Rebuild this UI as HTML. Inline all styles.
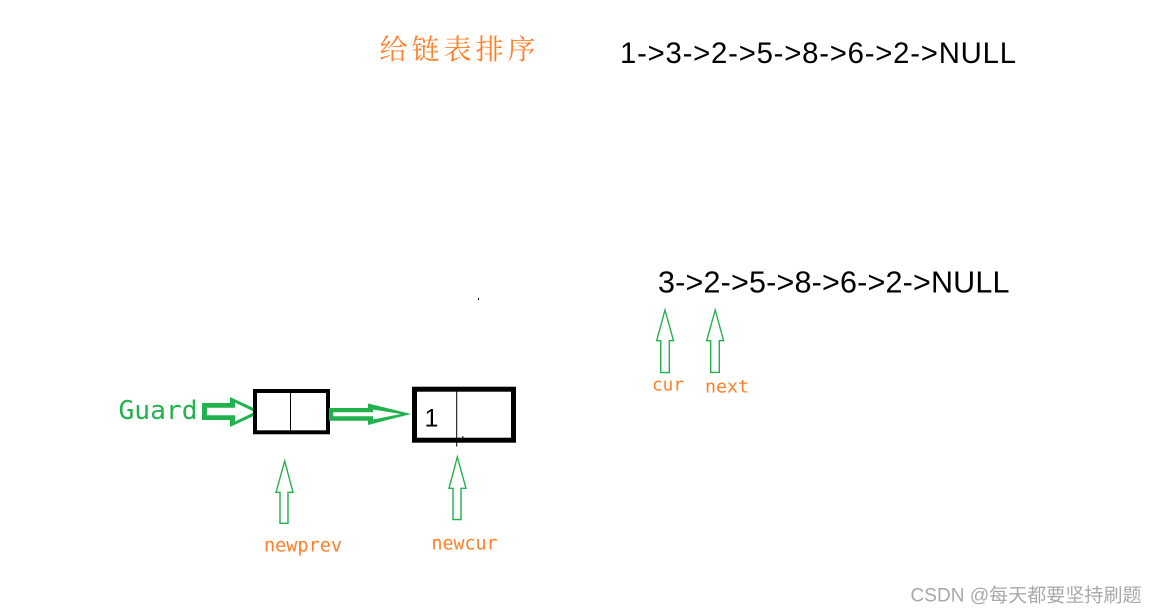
<!DOCTYPE html>
<html>
<head>
<meta charset="utf-8">
<style>
  html, body { margin:0; padding:0; background:#ffffff; }
  body { width:1156px; height:613px; overflow:hidden; }
  svg { display:block; }
</style>
</head>
<body>
<svg width="1156" height="613" viewBox="0 0 1156 613" xmlns="http://www.w3.org/2000/svg">
  <rect x="0" y="0" width="1156" height="613" fill="#ffffff"/>

  <!-- Title -->
  <text x="379.5" y="59" font-family="'Noto Serif CJK SC', 'WenQuanYi Zen Hei', serif" font-size="28" fill="#ff7f27" textLength="156" lengthAdjust="spacing">给链表排序</text>

  <!-- Top sequence -->
  <text x="620" y="63" font-family="'Liberation Sans', sans-serif" font-size="29.3" fill="#000000" textLength="396" lengthAdjust="spacing">1-&gt;3-&gt;2-&gt;5-&gt;8-&gt;6-&gt;2-&gt;NULL</text>

  <!-- Second sequence -->
  <text x="658" y="292.7" font-family="'Liberation Sans', sans-serif" font-size="30.5" fill="#000000" textLength="351.5" lengthAdjust="spacing">3-&gt;2-&gt;5-&gt;8-&gt;6-&gt;2-&gt;NULL</text>

  <!-- tiny dot -->
  <rect x="478" y="298" width="1" height="2" fill="#000000"/>

  <!-- cur / next arrows -->
  <polygon points="665,310 673.5,340.7 669.3,340.7 669.3,372.6 660.7,372.6 660.7,340.7 656.7,340.7" fill="none" stroke="#22b14c" stroke-width="1.4"/>
  <polygon points="715.2,310 723.6,340.7 719.3,340.7 719.3,372.4 710.7,372.4 710.7,340.7 706.7,340.7" fill="none" stroke="#22b14c" stroke-width="1.4"/>
  <text x="652" y="390.7" font-family="'DejaVu Sans Mono', monospace" font-size="18" fill="#ff7f27" textLength="32" lengthAdjust="spacingAndGlyphs">cur</text>
  <text x="705" y="392.7" font-family="'DejaVu Sans Mono', monospace" font-size="18" fill="#ff7f27" textLength="44" lengthAdjust="spacingAndGlyphs">next</text>

  <!-- Guard label -->
  <text x="118.5" y="419" font-family="'DejaVu Sans Mono', monospace" font-size="26" fill="#22b14c" textLength="79" lengthAdjust="spacingAndGlyphs">Guard</text>

  <!-- Guard thick arrow -->
  <polygon points="202,403 230,403 230,397 262,412 230,427 230,420 202,420" fill="#22b14c"/>
  <polygon points="207,407.7 235,407.7 235,402.5 254.5,412 235,421.5 235,415.3 207,415.3" fill="#ffffff"/>

  <!-- Box 1 -->
  <rect x="255" y="391" width="73" height="41.3" fill="#ffffff" stroke="#000000" stroke-width="4"/>
  <rect x="290" y="391" width="1" height="41.3" fill="#000000"/>

  <!-- Arrow box1 -> box2 -->
  <polygon points="329,408 368,408 368,403.5 411,414 368,425 368,420.7 329,420.7" fill="#22b14c"/>
  <polygon points="333.3,412.3 373,412.3 373,409.5 401,414 373,419.5 373,416.3 333.3,416.3" fill="#ffffff"/>

  <!-- Box 2 -->
  <rect x="414.5" y="389.2" width="99" height="51" fill="#ffffff" stroke="#000000" stroke-width="5"/>
  <rect x="456.2" y="389" width="1" height="57.5" fill="#000000"/>
  <rect x="462.3" y="436" width="1" height="2" fill="#000000"/>
  <text x="424.5" y="426.7" font-family="'Liberation Sans', sans-serif" font-size="25" fill="#000000">1</text>

  <!-- newprev / newcur arrows -->
  <polygon points="284.7,461 293,492.3 288,492.3 288,523.3 280,523.3 280,492.3 276,492.3" fill="none" stroke="#22b14c" stroke-width="1.4"/>
  <polygon points="457.3,457 466,488.3 461,488.3 461,519.6 453,519.6 453,488.3 449,488.3" fill="none" stroke="#22b14c" stroke-width="1.4"/>
  <text x="264" y="551.7" font-family="'DejaVu Sans Mono', monospace" font-size="19" fill="#ff7f27" textLength="78" lengthAdjust="spacingAndGlyphs">newprev</text>
  <text x="431.5" y="549.5" font-family="'DejaVu Sans Mono', monospace" font-size="19" fill="#ff7f27" textLength="66" lengthAdjust="spacingAndGlyphs">newcur</text>

  <!-- Watermark -->
  <text x="910.5" y="601.5" font-family="'Liberation Sans', 'Noto Sans CJK SC', sans-serif" font-size="19" fill="#a8a8a8" textLength="231" lengthAdjust="spacing">CSDN @每天都要坚持刷题</text>
</svg>
</body>
</html>
